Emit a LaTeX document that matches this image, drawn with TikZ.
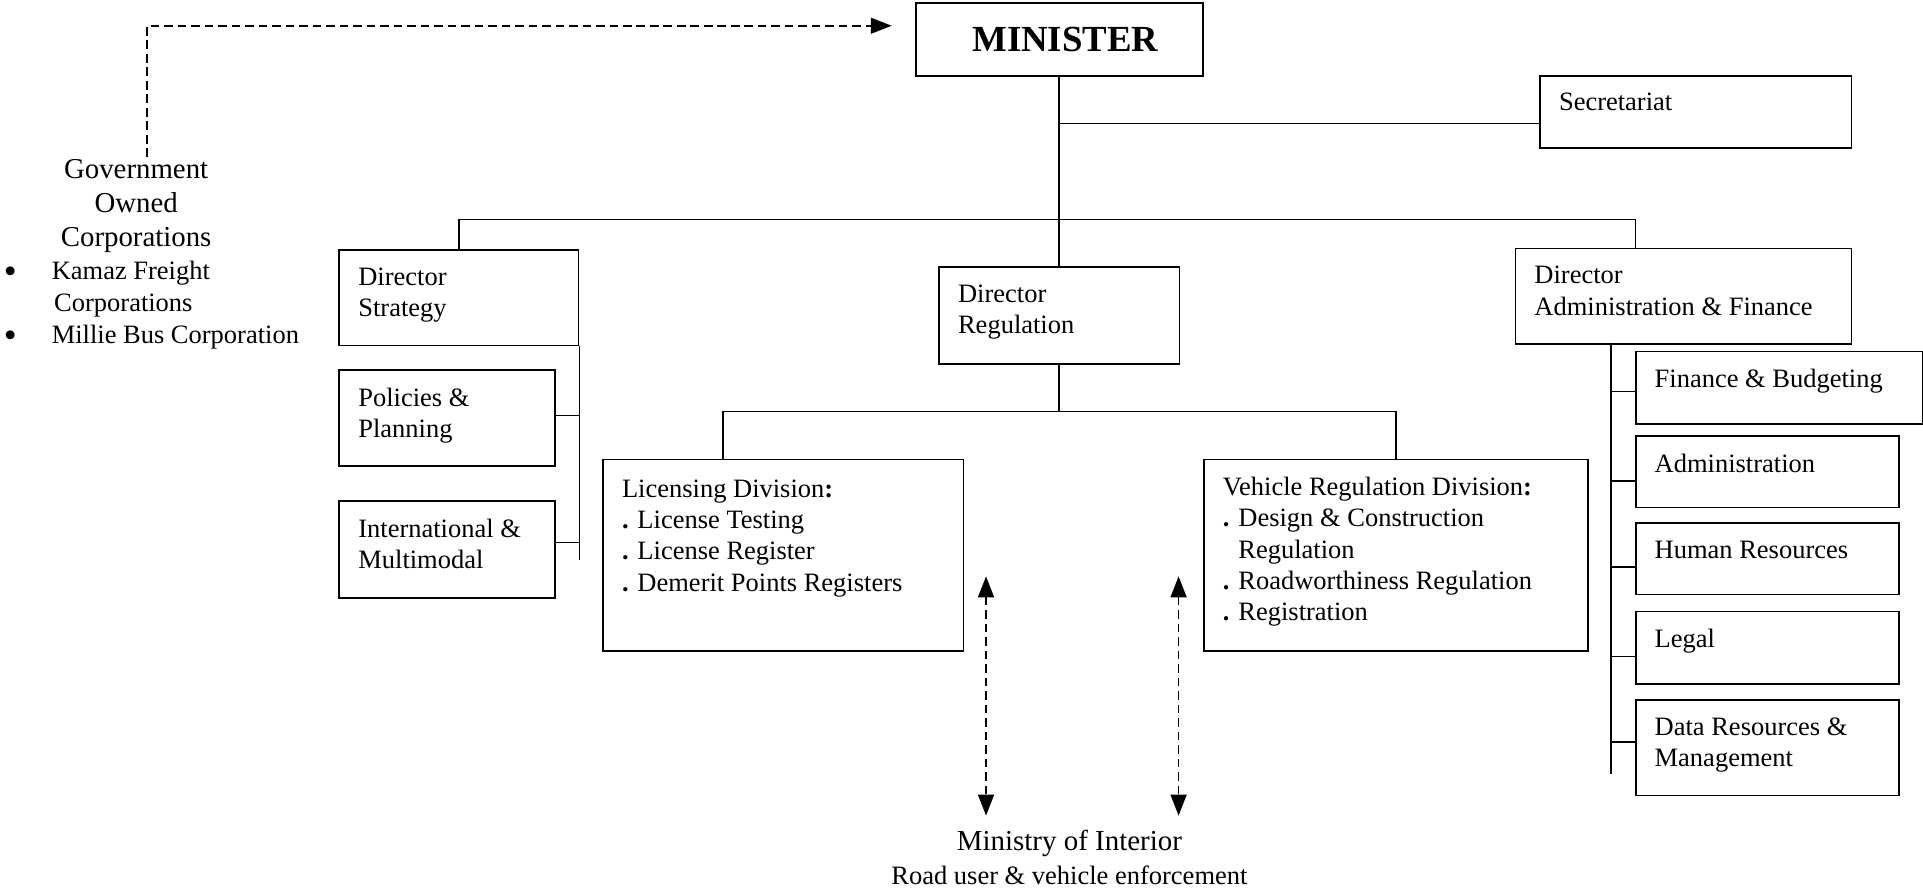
\documentclass[tikz,border=0pt]{standalone}
\usepackage{fontspec}
\setmainfont{Liberation Serif}
\usetikzlibrary{arrows.meta}
\newcommand{\corpbullet}{\makebox[39pt][l]{\raisebox{-3pt}{\fontsize{30}{26}\selectfont\textbullet}}}

\begin{document}
\begin{tikzpicture}[x=1pt, y=-1pt, >={Triangle[length=17pt,width=13pt]},
  every node/.style={font=\fontsize{21.6}{25.5}\selectfont},
  unit/.style={draw, line width=1.4pt, anchor=north west, inner sep=0pt},
  inbox/.style={anchor=north west, align=left, inner sep=0pt, xshift=16pt, yshift=-15pt},
  link/.style={line width=1.25pt},
  dashlink/.style={line width=1.25pt, dash pattern=on 7pt off 4pt}]
\useasboundingbox (0,0) rectangle (1568,728);
% top of the chart
\node[unit, minimum width=234pt, minimum height=59pt, font=\fontsize{30}{34}\selectfont\bfseries] (minister) at (746,2) {\hspace*{10pt}MINISTER};
\node[unit, minimum width=254pt, minimum height=59pt, label={[inbox]north west:{Secretariat}}] (sec) at (1255,61) {};
\node[align=center, inner sep=0pt, font=\fontsize{23.5}{27.5}\selectfont] (gov) at (111,168) {Government\\Owned\\Corporations};
\node[anchor=north west, align=left, inner sep=0pt, font=\fontsize{21.6}{26}\selectfont] (corp) at (3,213) {\corpbullet Kamaz Freight\\\hspace*{41pt}Corporations\\\corpbullet Millie Bus Corporation};
% directors
\node[unit, minimum width=195pt, minimum height=78pt, label={[inbox]north west:{Director\\Strategy}}] (strat) at (276,203) {};
\node[unit, minimum width=196pt, minimum height=79pt, label={[inbox]north west:{Director\\Regulation}}] (dreg) at (765,217) {};
\node[unit, minimum width=274pt, minimum height=78pt, label={[inbox]north west:{Director\\Administration \& Finance}}] (dadm) at (1235,202) {};
% strategy units
\node[unit, minimum width=176pt, minimum height=78pt, label={[inbox]north west:{Policies \&\\Planning}}] (pol) at (276,301) {};
\node[unit, minimum width=176pt, minimum height=79pt, label={[inbox]north west:{International \&\\Multimodal}}] (intl) at (276,408) {};
% regulation divisions
\node[unit, minimum width=294pt, minimum height=156pt, label={[inbox, yshift=-2pt]north west:{Licensing Division\textbf{:}\\\textbf{.} License Testing\\\textbf{.} License Register\\\textbf{.} Demerit Points Registers}}] (lic) at (491,374) {};
\node[unit, minimum width=313pt, minimum height=156pt, label={[inbox]north west:{Vehicle Regulation Division\textbf{:}\\\textbf{.} Design \& Construction\\\hphantom{\textbf{.} }Regulation\\\textbf{.} Roadworthiness Regulation\\\textbf{.} Registration}}] (veh) at (981,374) {};
% administration units
\node[unit, minimum width=234pt, minimum height=59pt, label={[inbox]north west:{Finance \& Budgeting}}] (fin) at (1333,286) {};
\node[unit, minimum width=215pt, minimum height=58pt, label={[inbox]north west:{Administration}}] (admin) at (1333,355) {};
\node[unit, minimum width=215pt, minimum height=58pt, label={[inbox]north west:{Human Resources}}] (hr) at (1333,426) {};
\node[unit, minimum width=215pt, minimum height=59pt, label={[inbox]north west:{Legal}}] (legal) at (1333,498) {};
\node[unit, minimum width=215pt, minimum height=78pt, label={[inbox]north west:{Data Resources \&\\Management}}] (data) at (1333,570) {};
\node[align=center, anchor=north, inner sep=0pt, font=\fontsize{23.6}{27}\selectfont] (mint) at (872,677) {Ministry of Interior\\{\fontsize{21.6}{27}\selectfont Road user \& vehicle enforcement}};
% connectors
\draw[link] (minister) -- (dreg);
\draw[link] ([yshift=-9.5pt]sec.west) -- ([yshift=-9.5pt]sec.west -| minister.south);
\draw[link] (strat.north) -- ++(0,-24) -| ([xshift=-39pt]dadm.north);
\draw[link] (strat.south east) -- ++(0,174);
\draw[link] ([yshift=2pt]pol.east) -- ([yshift=2pt]pol.east -| strat.east);
\draw[link] ([yshift=6pt]intl.east) -- ([yshift=6pt]intl.east -| strat.east);
\draw[link] (dreg.south) -- ++(0,38) coordinate (split);
\draw[link] ([xshift=-49pt]lic.north) |- (split) -| (veh.north);
\draw[link] ([xshift=-59pt,yshift=2pt]dadm.south) -- ++(0,352) coordinate (admend);
\draw[link] ([yshift=-3pt]fin.west) -- ([yshift=-3pt]fin.west -| admend);
\draw[link] ([yshift=-7.5pt]admin.west) -- ([yshift=-7.5pt]admin.west -| admend);
\draw[link] ([yshift=-6.5pt]hr.west) -- ([yshift=-6.5pt]hr.west -| admend);
\draw[link] ([yshift=-7pt]legal.west) -- ([yshift=-7pt]legal.west -| admend);
\draw[link] ([yshift=4.5pt]data.west) -- ([yshift=4.5pt]data.west -| admend);
% dashed links
\coordinate (govtip) at (727,21);
\coordinate (lictip) at (804,470);
\coordinate (vehtip) at (961,470);
\draw[dashlink, ->] ([xshift=9pt,yshift=2pt]gov.north) |- (govtip);
\draw[dashlink, <->] (lictip) -- ([yshift=12pt]lictip |- mint.north);
\draw[dashlink, <->] (vehtip) -- ([yshift=12pt]vehtip |- mint.north);
\end{tikzpicture}
\end{document}
